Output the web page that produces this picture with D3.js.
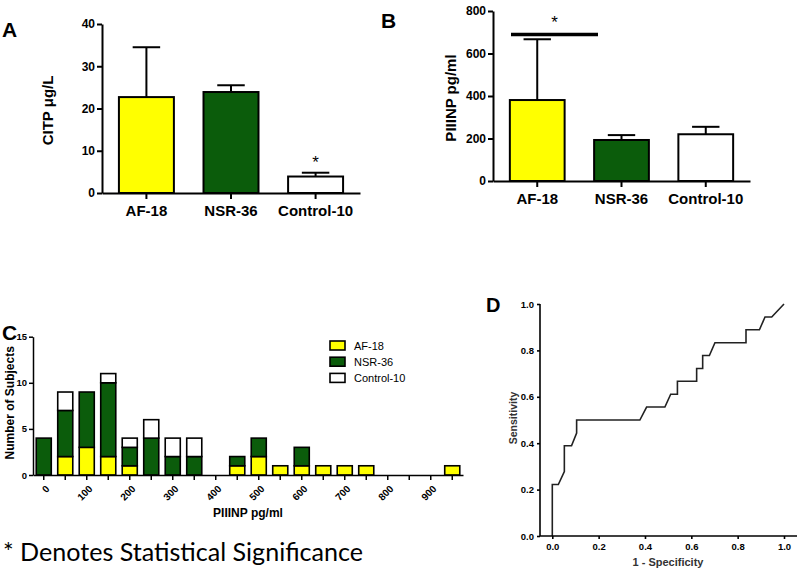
<!DOCTYPE html>
<html><head><meta charset="utf-8">
<script src="https://cdn.jsdelivr.net/npm/d3@7"></script>
<style>
body{margin:0;background:#fff;}
svg{display:block;font-family:"Liberation Sans",Arial,sans-serif;}
.ax path,.ax line{stroke:#000;}
.ax text{fill:#000;font-weight:bold;}
</style></head>
<body><svg id="c" width="800" height="571"></svg>
<script>
// ---------- DATA ----------
const groups = ["AF-18", "NSR-36", "Control-10"];
const citpMean = [22.7, 23.9, 3.9];
const citpErr = [11.8, 1.6, 0.9];
const citpTicks = [0, 10, 20, 30, 40];
const piiinpMean = [381, 193, 220];
const piiinpErr = [286, 23, 35];
const piiinpTicks = [0, 200, 400, 600, 800];

const binStarts = [0,50,100,150,200,250,300,350,400,450,500,550,600,650,700,750,800,850,900,950];
const afCounts   = [0,2,3,2,1,0,0,0,0,1,2,1,1,1,1,1,0,0,0,1];
const nsrCounts  = [4,5,6,8,2,4,2,2,0,1,2,0,2,0,0,0,0,0,0,0];
const ctrlCounts = [0,2,0,1,1,2,2,2,0,0,0,0,0,0,0,0,0,0,0,0];
const histTicks = [0, 5, 10, 15];

const rocX = [0, 0, 0.026, 0.052, 0.052, 0.083, 0.105, 0.105, 0.378, 0.407, 0.486, 0.511, 0.540, 0.540, 0.623, 0.623, 0.649, 0.649, 0.678, 0.702, 0.836, 0.836, 0.894, 0.918, 0.947, 1.0];
const rocY = [0, 0.222, 0.222, 0.278, 0.389, 0.389, 0.444, 0.5, 0.5, 0.556, 0.556, 0.611, 0.611, 0.667, 0.667, 0.722, 0.722, 0.778, 0.778, 0.833, 0.833, 0.889, 0.889, 0.944, 0.944, 1.0];
const rocTicks = [0, 0.2, 0.4, 0.6, 0.8, 1.0];

const colors = {"AF-18": "#ffff00", "NSR-36": "#0b5c0b", "Control-10": "#ffffff"};
const footnote = "* Denotes Statistical Significance";

// ---------- DRAW ----------
const svg = d3.select("#c");

function panelLabel(t, x, y, size) {
  svg.append("text").attr("x", x).attr("y", y).text(t)
    .attr("font-size", size).attr("font-weight", "bold");
}

function barPanel(opts) {
  const {means, errs, ticks, x0, x1, y0, y1, yTitle, yTitleX} = opts;
  const x = d3.scaleBand().domain(groups).range([x0, x1]).paddingInner(0.35).paddingOuter(0.2);
  const y = d3.scaleLinear().domain([0, ticks[ticks.length - 1]]).range([y0, y1]);
  const g = svg.append("g");
  g.selectAll("rect.bar").data(groups).join("rect")
    .attr("x", d => x(d)).attr("width", x.bandwidth())
    .attr("y", (d, i) => y(means[i])).attr("height", (d, i) => y0 - y(means[i]))
    .attr("fill", d => colors[d]).attr("stroke", "#000").attr("stroke-width", 2);
  g.selectAll("line.err").data(groups).join("line")
    .attr("x1", d => x(d) + x.bandwidth() / 2).attr("x2", d => x(d) + x.bandwidth() / 2)
    .attr("y1", (d, i) => y(means[i])).attr("y2", (d, i) => y(means[i] + errs[i]))
    .attr("stroke", "#000").attr("stroke-width", 2);
  g.selectAll("line.cap").data(groups).join("line")
    .attr("x1", d => x(d) + x.bandwidth() / 4).attr("x2", d => x(d) + x.bandwidth() * 3 / 4)
    .attr("y1", (d, i) => y(means[i] + errs[i])).attr("y2", (d, i) => y(means[i] + errs[i]))
    .attr("stroke", "#000").attr("stroke-width", 2);
  const ya = svg.append("g").attr("class", "ax").attr("transform", `translate(${x0},0)`)
    .call(d3.axisLeft(y).tickValues(ticks).tickSize(5).tickSizeOuter(0).tickPadding(2));
  ya.selectAll("path,line").attr("stroke-width", 2);
  ya.selectAll("text").attr("font-size", 12);
  const xa = svg.append("g").attr("class", "ax").attr("transform", `translate(0,${y0})`)
    .call(d3.axisBottom(x).tickSize(6).tickSizeOuter(0).tickPadding(6));
  xa.selectAll("path,line").attr("stroke-width", 2);
  xa.selectAll("text").attr("font-size", 15).attr("dy", "0.71em");
  svg.append("text").attr("transform", `translate(${yTitleX},${(y0 + y1) / 2 + 2}) rotate(-90)`)
    .attr("text-anchor", "middle").attr("font-size", 15).attr("font-weight", "bold").text(yTitle);
  return {x, y};
}

// Panel A
panelLabel("A", 2, 37, 21);
const A = barPanel({means: citpMean, errs: citpErr, ticks: citpTicks, x0: 102, x1: 360, y0: 193, y1: 24,
  yTitle: "CITP \u03bcg/L", yTitleX: 53});
svg.append("text").attr("x", A.x("Control-10") + A.x.bandwidth() / 2).attr("y", 168)
  .attr("text-anchor", "middle").attr("font-size", 17).text("*");

// Panel B
panelLabel("B", 381, 28, 21);
const B = barPanel({means: piiinpMean, errs: piiinpErr, ticks: piiinpTicks, x0: 493, x1: 750, y0: 181, y1: 11,
  yTitle: "PIIINP pg/ml", yTitleX: 456});
svg.append("line").attr("x1", 511).attr("x2", 598).attr("y1", B.y(690)).attr("y2", B.y(690))
  .attr("stroke", "#000").attr("stroke-width", 3.5);
svg.append("text").attr("x", (511 + 598) / 2).attr("y", 28)
  .attr("text-anchor", "middle").attr("font-size", 17).text("*");

// Panel C
panelLabel("C", 2, 340, 21);
(function () {
  const x0 = 33, x1 = 463, y0 = 475, y1 = 336.7;
  const x = d3.scaleBand().domain(binStarts).range([x0, x1]).paddingInner(0.3).paddingOuter(0.15);
  const y = d3.scaleLinear().domain([0, 15]).range([y0, y1]);
  const rows = binStarts.map((b, i) => ({bin: b, "AF-18": afCounts[i], "NSR-36": nsrCounts[i], "Control-10": ctrlCounts[i]}));
  const stack = d3.stack().keys(groups)(rows);
  svg.append("g").selectAll("g").data(stack).join("g")
    .attr("fill", s => colors[s.key])
    .selectAll("rect").data(s => s.filter(d => d[1] > d[0])).join("rect")
    .attr("x", d => x(d.data.bin)).attr("width", x.bandwidth())
    .attr("y", d => y(d[1])).attr("height", d => y(d[0]) - y(d[1]))
    .attr("stroke", "#000").attr("stroke-width", 1.6);
  const ya = svg.append("g").attr("class", "ax").attr("transform", `translate(${x0},0)`)
    .call(d3.axisLeft(y).tickValues(histTicks).tickSize(4).tickSizeOuter(0).tickPadding(2));
  ya.selectAll("path,line").attr("stroke-width", 1.5);
  ya.selectAll("text").attr("font-size", 9.5);
  const xa = svg.append("g").attr("class", "ax").attr("transform", `translate(0,${y0})`)
    .call(d3.axisBottom(x).tickSize(5).tickSizeOuter(0).tickFormat(d => d % 100 === 0 ? d : ""));
  xa.selectAll("path,line").attr("stroke-width", 1.5);
  xa.selectAll("text").attr("font-size", 10).attr("text-anchor", "end")
    .attr("x", 0).attr("y", 0).attr("dy", "0.35em").attr("transform", "translate(4,12) rotate(-45)");
  svg.append("text").attr("x", 248).attr("y", 517).attr("text-anchor", "middle")
    .attr("font-size", 12).attr("font-weight", "bold").text("PIIINP pg/ml");
  svg.append("text").attr("transform", `translate(14,${(y0 + y1) / 2 - 3}) rotate(-90)`)
    .attr("text-anchor", "middle").attr("font-size", 12).attr("font-weight", "bold").text("Number of Subjects");
  const lg = svg.append("g").selectAll("g").data(groups).join("g")
    .attr("transform", (d, i) => `translate(330,${341 + i * 16.2})`);
  lg.append("rect").attr("width", 15).attr("height", 9).attr("fill", d => colors[d])
    .attr("stroke", "#000").attr("stroke-width", 1.6);
  lg.append("text").attr("x", 24).attr("y", 8.5).attr("font-size", 11).text(d => d);
})();

// Panel D
panelLabel("D", 486, 312, 20);
(function () {
  const x = d3.scaleLinear().domain([0, 1]).range([552.3, 784]);
  const y = d3.scaleLinear().domain([0, 1]).range([536, 304]);
  const line = d3.line().x(d => x(d[0])).y(d => y(d[1]));
  svg.append("path").datum(rocX.map((v, i) => [v, rocY[i]])).attr("d", line)
    .attr("fill", "none").attr("stroke", "#222").attr("stroke-width", 1.6);
  const ya = svg.append("g").attr("class", "ax").attr("transform", "translate(540,0)")
    .call(d3.axisLeft(y).tickValues(rocTicks).tickFormat(d3.format(".1f")).tickSize(3).tickSizeOuter(0).tickPadding(3));
  ya.select("path").attr("d", "M0,304V536");
  ya.selectAll("path,line").attr("stroke-width", 1.6).attr("stroke", "#333");
  ya.selectAll("text").attr("font-size", 9.5).attr("fill", "#333");
  const xa = svg.append("g").attr("class", "ax").attr("transform", "translate(0,536)")
    .call(d3.axisBottom(x).tickValues(rocTicks).tickFormat(d3.format(".1f")).tickSize(3).tickSizeOuter(0).tickPadding(4));
  xa.select("path").attr("d", "M540,0H797");
  xa.selectAll("path,line").attr("stroke-width", 1.6).attr("stroke", "#333");
  xa.selectAll("text").attr("font-size", 9.5).attr("fill", "#333");
  svg.append("text").attr("x", 668).attr("y", 566).attr("text-anchor", "middle")
    .attr("font-size", 11).attr("font-weight", "bold").attr("fill", "#333").text("1 - Specificity");
  svg.append("text").attr("transform", "translate(517,418) rotate(-90)").attr("text-anchor", "middle")
    .attr("font-size", 10.5).attr("font-weight", "bold").attr("fill", "#333").text("Sensitivity");
})();

// Footnote
svg.append("text").attr("x", 3).attr("y", 561).attr("font-family", "Lato,'Open Sans',sans-serif")
  .attr("font-size", 25).attr("textLength", 360).attr("lengthAdjust", "spacingAndGlyphs").text(footnote);
</script></body></html>
